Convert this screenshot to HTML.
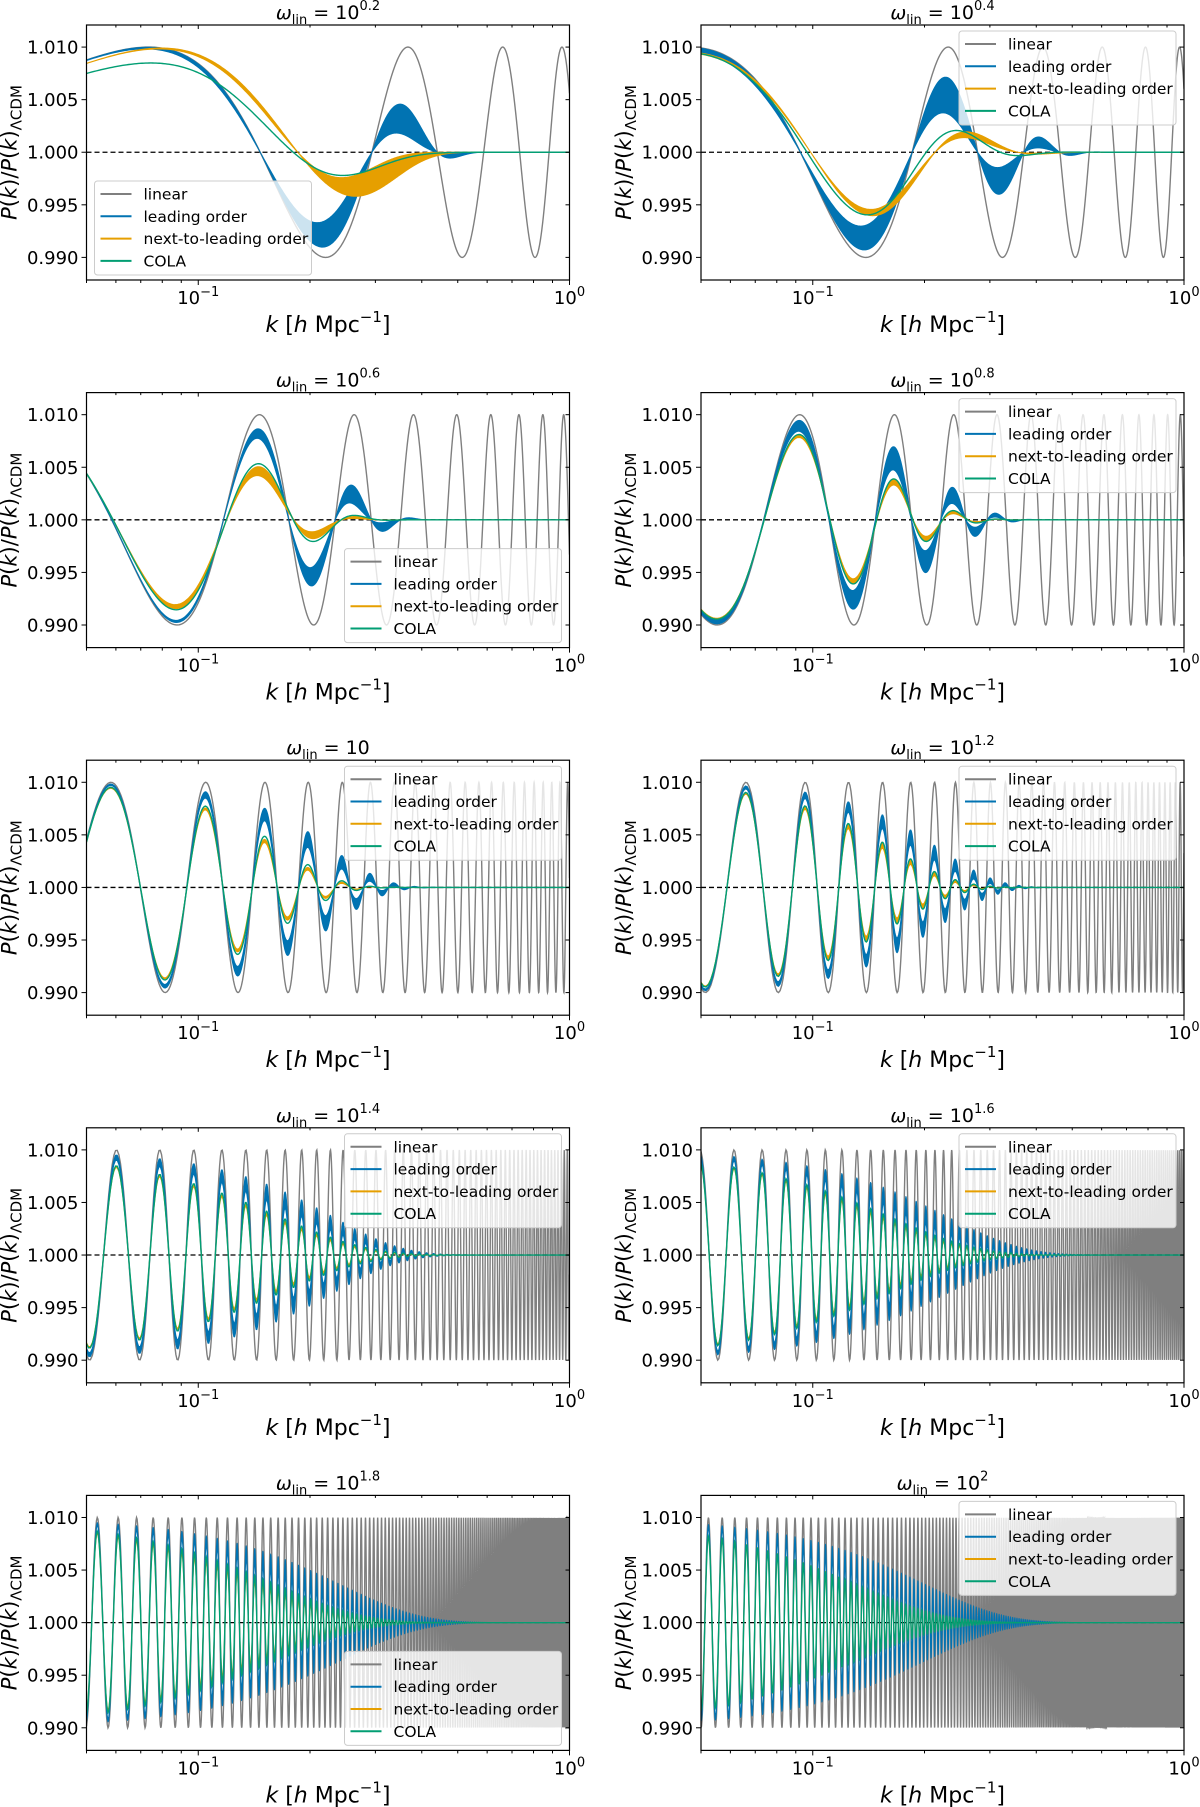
<!DOCTYPE html>
<html><head><meta charset="utf-8"><title>BAO-like oscillation damping panels</title>
<style>
html,body{margin:0;padding:0;background:#fff;}
svg{display:block;font-family:"DejaVu Sans","Liberation Sans",sans-serif;}
</style></head>
<body>
<svg id="fig" width="1200" height="1807" viewBox="0 0 1200 1807" xmlns="http://www.w3.org/2000/svg">
<rect x="0" y="0" width="1200" height="1807" fill="#fff"/>
</svg>
<script>
// ---- data ----
const omegaExp=[0.2,0.4,0.6,0.8,1.0,1.2,1.4,1.6,1.8,2.0];
const titleExp=["0.2","0.4","0.6","0.8","","1.2","1.4","1.6","1.8","2"];
const loUpKd=[0.38,0.33,0.253,0.227,0.23,0.22,0.23,0.23,0.24,0.20];
const loUpPow=[4.1,3.0,3.5,3.2,3.0,2.8,2.3,2.1,2.0,2.0];
const loLoKd=[0.294,0.23,0.217,0.186,0.20,0.19,0.19,0.185,0.19,0.16];
const loLoPow=[2.9,2.0,3.4,2.5,2.8,2.6,2.0,2.0,2.0,2.0];
const nloUpKd=[0.31,0.21,0.17,0.17,0.165,0.165,0.16,0.155,0.15,0.13];
const nloLoKd=[0.25,0.19,0.155,0.16,0.16,0.155,0.155,0.15,0.145,0.125];
const nloPow=[3.5,2.0,2.7,2.56,2.8,2.5,1.8,1.8,1.8,1.8];
const nloLag=[24,21,9,5,2,1,0,0,0,0];
const colaKd=[0.24,0.2,0.175,0.17,0.17,0.165,0.165,0.16,0.16,0.13];
const colaPow=[2.5,2.0,2.7,2.56,2.8,2.5,1.8,1.8,1.8,1.8];
const colaAmp=[0.9,1,1,1,1,1,1,1,1,1];
const colaLag=[22,14,8,4,2,1,0,0,0,0];
const legendLoc=["ll","ur","lr","ur","ur","ur","ur","ur","lr","ur"];
const yTicks=[0.990,0.995,1.000,1.005,1.010];
const yTickLabels=["0.990","0.995","1.000","1.005","1.010"];
const legendLabels=["linear","leading order","next-to-leading order","COLA"];
const kScale=13.5, amp=0.01;
const kMin=0.05, kMax=1.0, yMin=0.98785, yMax=1.0121;

// ---- layout ----
const NS="http://www.w3.org/2000/svg";
const svg=document.getElementById('fig');
const W=483,H=255;
const C={lin:"#7f7f7f",lo:"#0173b2",nlo:"#e69f00",cola:"#029e73"};
function mk(tag,attrs,parent){const e=document.createElementNS(NS,tag);for(const a in attrs)e.setAttribute(a,attrs[a]);(parent||svg).appendChild(e);return e;}

for(let i=0;i<10;i++){
  const col=i%2,row=Math.floor(i/2);
  const x0=col?701:86.5, y0=25+row*367.6;
  const om=Math.pow(10,omegaExp[i]);
  const lx0=Math.log10(kMin),lx1=Math.log10(kMax);
  const xs=k=>x0+(Math.log10(k)-lx0)/(lx1-lx0)*W;
  const ys=v=>y0+(yMax-v)/(yMax-yMin)*H;
  const g=mk('g',{});
  
  
  const cp=mk('clipPath',{id:'clip'+i},g);
  mk('rect',{x:x0,y:y0,width:W,height:H},cp);
  const plot=mk('g',{'clip-path':'url(#clip'+i+')'},g);
  
  

  const cycles=kScale*om*(kMax-kMin)/(2*Math.PI);
  const N=Math.max(1200,Math.ceil(cycles*30));
  const ks=[];for(let j=0;j<=N;j++)ks.push(kMin+(kMax-kMin)*j/N);
  const damp=(k,kd,p)=>Math.exp(-Math.pow(k/kd,p));
  const wave=(k,lag)=>Math.sin(kScale*om*k-lag*k*k);
  const line=f=>ks.map((k,j)=>(j?'L':'M')+xs(k).toFixed(2)+' '+ys(f(k)).toFixed(2)).join('');
  const band=(fu,fl)=>{let s=ks.map((k,j)=>(j?'L':'M')+xs(k).toFixed(2)+' '+ys(fu(k)).toFixed(2)).join('');
    for(let j=ks.length-1;j>=0;j--)s+='L'+xs(ks[j]).toFixed(2)+' '+ys(fl(ks[j])).toFixed(2);return s+'Z';};

  const linP=mk('path',{d:line(k=>1+amp*wave(k,0)),fill:'none',stroke:C.lin,'stroke-width':1.4},plot);
  
  
  const zl=mk('line',{x1:x0,x2:x0+W,y1:ys(1),y2:ys(1),stroke:'#000','stroke-width':1.3,'stroke-dasharray':'5 3'},plot);
  
  
  const loP=mk('path',{d:band(k=>1+amp*damp(k,loUpKd[i],loUpPow[i])*wave(k,0),k=>1+amp*damp(k,loLoKd[i],loLoPow[i])*wave(k,0)),fill:C.lo,stroke:C.lo,'stroke-width':1,'stroke-linejoin':'round'},plot);
  
  
  const nloP=mk('path',{d:band(k=>1+amp*damp(k,nloUpKd[i],nloPow[i])*wave(k,nloLag[i]),k=>1+amp*damp(k,nloLoKd[i],nloPow[i])*wave(k,nloLag[i])),fill:C.nlo,stroke:C.nlo,'stroke-width':1,'stroke-linejoin':'round'},plot);
  
  
  const colaP=mk('path',{d:line(k=>1+amp*colaAmp[i]*damp(k,colaKd[i],colaPow[i])*wave(k,colaLag[i])),fill:'none',stroke:C.cola,'stroke-width':1.4},plot);
  
  

  // axes frame
  const fr=mk('rect',{x:x0,y:y0,width:W,height:H,fill:'none',stroke:'#000','stroke-width':1.2},g);
  
  
  // y ticks
  yTicks.forEach((v,t)=>{
    const y=ys(v);
    mk('line',{x1:x0-5,x2:x0,y1:y,y2:y,stroke:'#000','stroke-width':1},g);
    mk('line',{x1:x0+W,x2:x0+W-4,y1:y,y2:y,stroke:'#000','stroke-width':1},g);
    const tl=mk('text',{x:x0-8,y:y+6.5,'text-anchor':'end','font-size':18,fill:'#000'},g);
    tl.textContent=yTickLabels[t];
    
    
  });
  // x ticks (log)
  for(let d=-2;d<=0;d++){for(let m=1;m<10;m++){const k=m*Math.pow(10,d);if(k<kMin-1e-9||k>kMax+1e-9)continue;
    const x=xs(k),maj=(m===1);
    mk('line',{x1:x,x2:x,y1:y0+H,y2:y0+H+(maj?5:3),stroke:'#000','stroke-width':1},g);
    mk('line',{x1:x,x2:x,y1:y0,y2:y0+(maj?4:2.5),stroke:'#000','stroke-width':1},g);
    if(maj){const tl=mk('text',{x:x,y:y0+H+24,'text-anchor':'middle','font-size':18,fill:'#000'},g);
      
      
      const a=mk('tspan',{},tl);a.textContent='10';
      const b=mk('tspan',{dy:-8,'font-size':13},tl);b.textContent=(d===0?'0':'\u22121');}
  }}
  // title
  const tt=mk('text',{x:x0+W/2,y:y0-6,'text-anchor':'middle','font-size':19,fill:'#000'},g);
  
  
  const t1=mk('tspan',{'font-style':'italic'},tt);t1.textContent='\u03c9';
  const t2=mk('tspan',{dy:5,'font-size':13},tt);t2.textContent='lin';
  const t3=mk('tspan',{dy:-5},tt);t3.textContent=' = 10';
  if(titleExp[i]){const t4=mk('tspan',{dy:-9,'font-size':13},tt);t4.textContent=titleExp[i];}
  // x label
  const xl=mk('text',{x:x0+W/2,y:y0+H+52,'text-anchor':'middle','font-size':22,fill:'#000'},g);
  
  
  const a1=mk('tspan',{'font-style':'italic'},xl);a1.textContent='k';
  const a2=mk('tspan',{},xl);a2.textContent=' [';
  const a3=mk('tspan',{'font-style':'italic'},xl);a3.textContent='h';
  const a4=mk('tspan',{},xl);a4.textContent=' Mpc';
  const a5=mk('tspan',{dy:-10,'font-size':15},xl);a5.textContent='\u22121';
  const a6=mk('tspan',{dy:10},xl);a6.textContent=']';
  // y label
  const cx=x0-70, cy=y0+H/2;
  const yl=mk('text',{x:cx,y:cy,'text-anchor':'middle','font-size':21,fill:'#000',transform:'rotate(-90 '+cx+' '+cy+')'},g);
  
  
  const b1=mk('tspan',{'font-style':'italic'},yl);b1.textContent='P';
  const b2=mk('tspan',{},yl);b2.textContent='(';
  const b3=mk('tspan',{'font-style':'italic'},yl);b3.textContent='k';
  const b4=mk('tspan',{},yl);b4.textContent=')/';
  const b5=mk('tspan',{'font-style':'italic'},yl);b5.textContent='P';
  const b6=mk('tspan',{},yl);b6.textContent='(';
  const b7=mk('tspan',{'font-style':'italic'},yl);b7.textContent='k';
  const b8=mk('tspan',{},yl);b8.textContent=')';
  const b9=mk('tspan',{dy:5,'font-size':15},yl);b9.textContent='\u039bCDM';
  // legend
  const LW=217,LH=94;
  let lx,ly;
  if(legendLoc[i]==='ll'){lx=x0+8;ly=y0+H-5-LH;}
  else if(legendLoc[i]==='lr'){lx=x0+W-8-LW;ly=y0+H-5-LH;}
  else {lx=x0+W-8-LW;ly=y0+6;}
  const lg=mk('g',{},g);
  
  
  mk('rect',{x:lx,y:ly,width:LW,height:LH,rx:3,fill:'#fff','fill-opacity':0.8,stroke:'#cccccc','stroke-width':1},lg);
  const cols=[C.lin,C.lo,C.nlo,C.cola];
  legendLabels.forEach((lab,r)=>{
    const yy=ly+13+r*22.3;
    const e=mk('g',{},lg);
    
    
    mk('line',{x1:lx+6,x2:lx+37,y1:yy,y2:yy,stroke:cols[r],'stroke-width':2},e);
    const t=mk('text',{x:lx+49,y:yy+5.5,'font-size':15.5,fill:'#000'},e);
    t.textContent=lab;
  });
}
</script>
</body></html>
